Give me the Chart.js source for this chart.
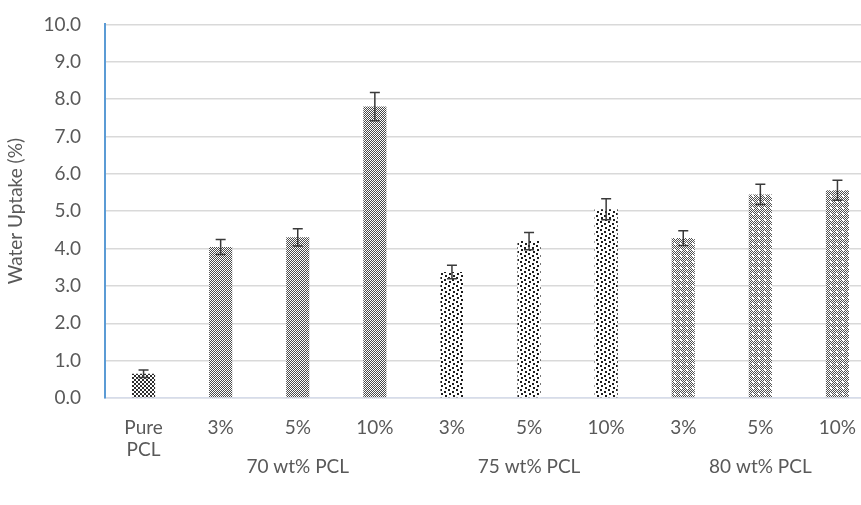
<!DOCTYPE html>
<html>
<head>
<meta charset="utf-8">
<script src="https://cdn.jsdelivr.net/npm/chart.js@4"></script>
<style>
  html, body { margin: 0; padding: 0; background: #fff; overflow: hidden; }
  #wrap { width: 876px; height: 516px; position: relative; top: -11px; }
</style>
</head>
<body>
<div id="wrap"><canvas id="myChart"></canvas></div>
<script>
// data
const categories = [['Pure', 'PCL'], '3%', '5%', '10%', '3%', '5%', '10%', '3%', '5%', '10%'];
const uptake = [0.65, 4.04, 4.30, 7.80, 3.37, 4.20, 5.05, 4.28, 5.45, 5.56];
const uptakeErr = [0.10, 0.20, 0.23, 0.38, 0.18, 0.23, 0.28, 0.20, 0.27, 0.27];
const groupNames = ['70 wt% PCL', '75 wt% PCL', '80 wt% PCL'];
const groupMembers = [[1, 2, 3], [4, 5, 6], [7, 8, 9]];
const yTicks = [0, 1, 2, 3, 4, 5, 6, 7, 8, 9, 10];

// fill patterns like the office-style hatches
function makePattern(size, draw) {
    const c = document.createElement('canvas');
    c.width = size;
    c.height = size;
    const g = c.getContext('2d');
    g.fillStyle = '#fff';
    g.fillRect(0, 0, size, size);
    draw(g);
    return c.getContext('2d').createPattern(c, 'repeat');
}

const patPure = makePattern(4, g => {
    g.fillStyle = '#2e2e2e';
    g.fillRect(0, 0, 2, 2);
    g.fillRect(2, 2, 2, 2);
});
const pat70 = makePattern(2, g => {
    g.fillStyle = '#4a4a4a';
    g.fillRect(0, 0, 1, 1);
    g.fillRect(1, 1, 1, 1);
});
const pat75 = makePattern(8, g => {
    g.fillStyle = '#1e1e1e';
    g.fillRect(0, 0, 2, 2);
    g.fillRect(4, 2, 2, 2);
    g.fillRect(1, 4, 2, 2);
    g.fillRect(5, 6, 2, 2);
});
const pat80 = makePattern(6, g => {
    g.fillStyle = '#505050';
    for (let i = 0; i < 6; i++) {
        for (let j = 0; j < 6; j++) {
            if ((i + j) % 2 === 0) g.fillRect(i, j, 1, 1);
        }
    }
    g.fillStyle = '#fff';
    g.fillRect(2, 2, 2, 2);
});

const fills = [patPure, pat70, pat70, pat70, pat75, pat75, pat75, pat80, pat80, pat80];

const errorBars = {
    id: 'errorBars',
    afterDatasetsDraw(chart) {
        const meta = chart.getDatasetMeta(0);
        const y = chart.scales.y;
        const ctx = chart.ctx;
        ctx.save();
        ctx.strokeStyle = '#3a3a3a';
        ctx.lineWidth = 1.5;
        meta.data.forEach((bar, i) => {
            const top = y.getPixelForValue(uptake[i] + uptakeErr[i]);
            const bot = y.getPixelForValue(uptake[i] - uptakeErr[i]);
            ctx.beginPath();
            ctx.moveTo(bar.x, top);
            ctx.lineTo(bar.x, bot);
            ctx.moveTo(bar.x - 5, top);
            ctx.lineTo(bar.x + 5, top);
            ctx.moveTo(bar.x - 5, bot);
            ctx.lineTo(bar.x + 5, bot);
            ctx.stroke();
        });
        ctx.restore();
    }
};

const groupLabels = {
    id: 'groupLabels',
    afterDraw(chart) {
        const x = chart.scales.x;
        const ctx = chart.ctx;
        ctx.save();
        ctx.fillStyle = '#595959';
        ctx.font = '19px Lato';
        ctx.textAlign = 'center';
        ctx.textBaseline = 'middle';
        groupMembers.forEach((m, k) => {
            const cx = m.reduce((s, i) => s + x.getPixelForValue(i), 0) / m.length;
            ctx.fillText(groupNames[k], cx, x.bottom - 38);
        });
        ctx.restore();
    }
};

new Chart(document.getElementById('myChart'), {
    type: 'bar',
    data: {
        labels: categories,
        datasets: [{
            label: 'Water Uptake',
            data: uptake,
            backgroundColor: fills,
            barPercentage: 0.6,
            categoryPercentage: 0.5
        }]
    },
    options: {
        responsive: true,
        maintainAspectRatio: false,
        animation: false,
        layout: { padding: 0 },
        plugins: {
            legend: { display: false },
            tooltip: { enabled: false }
        },
        scales: {
            x: {
                grid: { display: false },
                border: { color: '#d6dcea', width: 1.5 },
                ticks: {
                    color: '#595959',
                    font: { family: 'Lato', size: 19, lineHeight: 1.2 },
                    padding: 10,
                    maxRotation: 0,
                    autoSkip: false
                },
                afterFit(scale) { scale.height = 107; }
            },
            y: {
                min: 0,
                max: 10,
                afterBuildTicks(scale) { scale.ticks = yTicks.map(v => ({ value: v })); },
                grid: { color: '#d9d9d9', lineWidth: 1.5, drawTicks: false },
                border: { color: '#5b9bd5', width: 2 },
                ticks: {
                    color: '#595959',
                    font: { family: 'Lato', size: 19 },
                    padding: 24,
                    callback: v => v.toFixed(1)
                },
                title: {
                    display: true,
                    text: 'Water Uptake (%)',
                    color: '#595959',
                    font: { family: 'Lato', size: 19 },
                    padding: { top: 4, bottom: 0 }
                },
                afterFit(scale) { scale.width = 105; }
            }
        }
    },
    plugins: [errorBars, groupLabels]
});
</script>
</body>
</html>
